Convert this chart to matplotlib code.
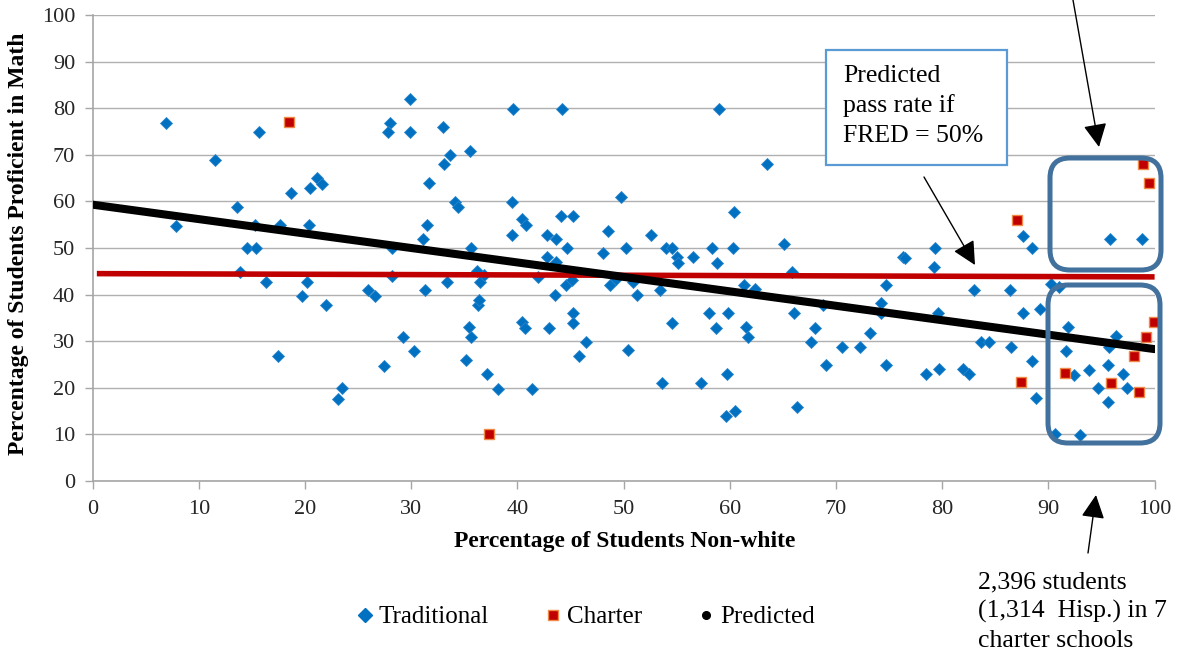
import matplotlib
matplotlib.use('Agg')
import matplotlib.pyplot as plt
from matplotlib.lines import Line2D
from matplotlib.patches import FancyBboxPatch, Rectangle, FancyArrowPatch
from matplotlib.transforms import IdentityTransform

plt.rcParams['font.family'] = ['Liberation Serif', 'DejaVu Serif']

# ---------------- data ----------------
trad_x = [6.9, 7.9, 11.5, 13.6, 13.9, 14.5, 15.3, 15.4, 15.7, 16.3,
          17.5, 17.6, 18.7, 19.7, 20.2, 20.4, 20.5, 21.1, 21.6, 22.0,
          23.1, 23.5, 25.9, 26.6, 27.4, 28.0, 27.8,
          28.2, 28.2, 29.2, 29.9, 29.9, 30.3, 31.1, 31.3, 31.5, 31.7,
          33.0, 33.1, 33.4, 33.7, 34.1, 34.4, 35.2, 35.5, 35.4, 35.6,
          35.6, 36.2, 36.3, 36.4, 36.5, 36.9, 37.1, 38.2, 39.5, 39.5,
          39.6, 40.4, 40.4, 40.7, 40.8, 41.4, 41.9, 42.8, 42.8, 43.0,
          43.5, 43.6, 43.6, 44.1, 44.2, 44.6, 44.7, 45.1, 45.2, 45.2,
          45.2, 45.8, 46.5, 48.1, 48.5, 48.7, 49.3, 49.8, 50.2, 50.4,
          50.9, 51.3, 52.6, 53.4, 53.6, 54.0, 54.6, 54.6, 55.0, 55.1,
          56.5, 57.3, 58.0, 58.3, 58.7, 58.8, 59.0, 59.6, 59.7, 59.8,
          60.3, 60.4, 60.5, 61.3, 61.5, 61.7, 62.4, 63.5, 65.1, 65.9,
          66.0, 66.3, 67.6, 68.0, 68.8, 69.1, 70.6, 72.3, 73.2, 74.2,
          74.2, 74.7, 74.7, 76.3, 76.5, 78.5, 79.2, 79.3, 79.6, 79.7,
          82.0, 82.5, 83.0, 83.7, 84.4,
          86.4, 86.5, 87.6, 87.6, 88.5, 88.5, 88.8, 89.2, 90.2, 90.6,
          91.0, 91.7, 91.8, 92.4, 93.0, 93.8, 94.7, 95.6, 95.6, 95.7,
          95.8, 96.4, 97.0, 97.4, 98.8]
trad_y = [76.9, 54.8, 68.9, 58.7, 44.9, 49.9, 54.9, 49.9, 75.0, 42.8,
          26.8, 54.9, 61.9, 39.7, 42.8, 54.9, 62.8, 65.0, 63.7, 37.8,
          17.7, 19.9, 41.0, 39.7, 24.7, 76.9, 75.0,
          49.9, 44.0, 31.0, 81.9, 75.0, 28.0, 51.9, 41.0, 54.9, 63.9,
          75.9, 68.0, 42.8, 70.0, 59.9, 58.7, 26.0, 70.9, 33.0, 30.8,
          49.9, 45.1, 37.8, 38.8, 42.8, 44.2, 22.9, 19.7, 52.8, 59.8,
          79.8, 34.2, 56.2, 32.8, 54.9, 19.7, 43.8, 48.1, 52.8, 32.8,
          39.9, 51.9, 46.9, 56.9, 79.8, 42.1, 49.9, 43.1, 56.9, 36.1,
          34.0, 26.8, 29.9, 48.9, 53.7, 42.1, 43.3, 60.9, 49.9, 28.1,
          42.8, 39.9, 52.8, 41.0, 21.0, 49.9, 49.9, 34.0, 48.1, 46.7,
          48.0, 21.0, 36.0, 49.9, 32.8, 46.7, 79.8, 13.9, 23.0, 36.0,
          49.9, 57.8, 15.0, 42.1, 33.0, 30.8, 41.1, 68.0, 50.9, 44.9,
          36.0, 15.9, 29.9, 32.8, 37.8, 24.9, 28.8, 28.8, 31.8, 38.1,
          36.0, 42.1, 24.9, 48.0, 47.8, 22.9, 45.9, 49.9, 36.1, 24.0,
          24.0, 23.0, 41.0, 29.9, 29.9,
          41.0, 28.8, 52.6, 36.0, 49.9, 25.8, 17.9, 36.9, 42.2, 10.1,
          41.7, 28.0, 33.0, 22.7, 9.9, 23.8, 19.9, 24.9, 17.0, 28.7,
          51.9, 31.1, 22.9, 19.9, 51.9]

charter_x = [18.5, 37.3, 87.0, 87.4, 91.6, 95.9, 98.1, 98.5, 98.9, 99.2, 99.5, 99.9]
charter_y = [77.0, 10.0, 56.0, 21.2, 23.1, 21.1, 26.8, 19.0, 68.0, 31.0, 64.0, 34.2]

pred_x = [0, 100]
pred_y = [59.3, 28.3]

fred_x = [0.4, 100]
fred_y = [44.5, 43.8]

ticks = list(range(0, 101, 10))

series_labels = ['Traditional', 'Charter', 'Predicted']
xlabel = 'Percentage of Students Non-white'
ylabel = 'Percentage of Students Proficient in Math'
box_lines = ['Predicted', 'pass rate if', 'FRED = 50%']
note_lines = ['2,396 students', '(1,314  Hisp.) in 7', 'charter schools']

# ---------------- figure ----------------
W, H = 1182, 660
fig = plt.figure(figsize=(W / 100, H / 100), dpi=100, facecolor='white')
ax = fig.add_axes([92.6 / W, 1 - 481 / H, 1062 / W, 466 / H])
ax.set_xlim(0, 100)
ax.set_ylim(0, 100)
ax.set_xticks(ticks)
ax.set_yticks(ticks)

gray = '#A6A6A6'
ax.yaxis.grid(True, color='#B0B0B0', lw=1.0)
ax.set_axisbelow(True)
for s in ['top', 'right']:
    ax.spines[s].set_visible(False)
for s in ['left', 'bottom']:
    ax.spines[s].set_color(gray)
    ax.spines[s].set_linewidth(1.2)
ax.tick_params(axis='both', direction='out', length=5.5, width=1.0, color=gray,
               labelsize=16, labelcolor='#262626')
ax.tick_params(axis='x', pad=8)
ax.tick_params(axis='y', pad=7)

ax.plot(trad_x, trad_y, linestyle='none', marker='D', ms=6.6, color='#0070C0',
        mec='#2a86cc', mew=0.6, zorder=2)
ax.plot(fred_x, fred_y, color='#C00000', lw=4.0, solid_capstyle='butt', zorder=3)
ax.plot(pred_x, pred_y, color='black', lw=5.8, solid_capstyle='round', zorder=4)
ax.plot(charter_x, charter_y, linestyle='none', marker='s', ms=7.2, color='#C00000',
        mec='#F08848', mew=1.0, zorder=5, clip_on=False)

# axis labels
fig.text(625 / W, 1 - 541 / H, xlabel, ha='center', va='center',
         fontsize=17, fontweight='bold')
fig.text(19 / W, 1 - 244 / H, ylabel, ha='center', va='center', rotation=90,
         fontsize=17, fontweight='bold')

# legend
handles = [
    Line2D([], [], linestyle='none', marker='D', ms=7, color='#0070C0'),
    Line2D([], [], linestyle='none', marker='s', ms=7.2, color='#C00000', mec='#F08848', mew=1.0),
    Line2D([], [], linestyle='none', marker='o', ms=5.5, color='black'),
]
fig.legend(handles, series_labels, loc='center', bbox_to_anchor=(585 / W, 1 - 617 / H),
           ncol=3, frameon=False, fontsize=18, columnspacing=2.16,
           handletextpad=0.16, handlelength=0.8, borderpad=0, borderaxespad=0)

ident = IdentityTransform()

def P(px, py):
    return (px, H - py)

# annotation box
rect = Rectangle(P(826, 165), 181, 115, transform=ident, facecolor='white',
                 edgecolor='#5B9BD5', lw=1.6, zorder=10)
fig.patches.append(rect)
for i, line in enumerate(box_lines):
    fig.text(843 / W, 1 - (82 + 30 * i) / H, line, ha='left', va='baseline',
             fontsize=18.5, zorder=11)

# bottom note
for i, line in enumerate(note_lines):
    fig.text(978 / W, 1 - (588 + 29.5 * i) / H, line, ha='left', va='baseline',
             fontsize=18.5)

# rounded boxes
box_col = '#41719C'
for (x0, y0, x1, y1) in [(1050, 158, 1161, 270), (1048, 285, 1160, 443)]:
    bb = FancyBboxPatch(P(x0, y1), x1 - x0, y1 - y0,
                        boxstyle='round,pad=0,rounding_size=20', transform=ident,
                        facecolor='none', edgecolor=box_col, lw=3.6, zorder=12)
    fig.patches.append(bb)

# arrows
for (a, b) in [((924, 177), (975, 265)), ((1073, 0), (1099, 147)), ((1088, 553), (1096, 495))]:
    arr = FancyArrowPatch(P(*a), P(*b), transform=ident,
                          arrowstyle='-|>,head_length=0.9,head_width=0.45',
                          mutation_scale=16, color='black', lw=1.0, zorder=13,
                          shrinkA=0, shrinkB=0)
    fig.patches.append(arr)

fig.savefig('out.png', dpi=100, facecolor='white')
